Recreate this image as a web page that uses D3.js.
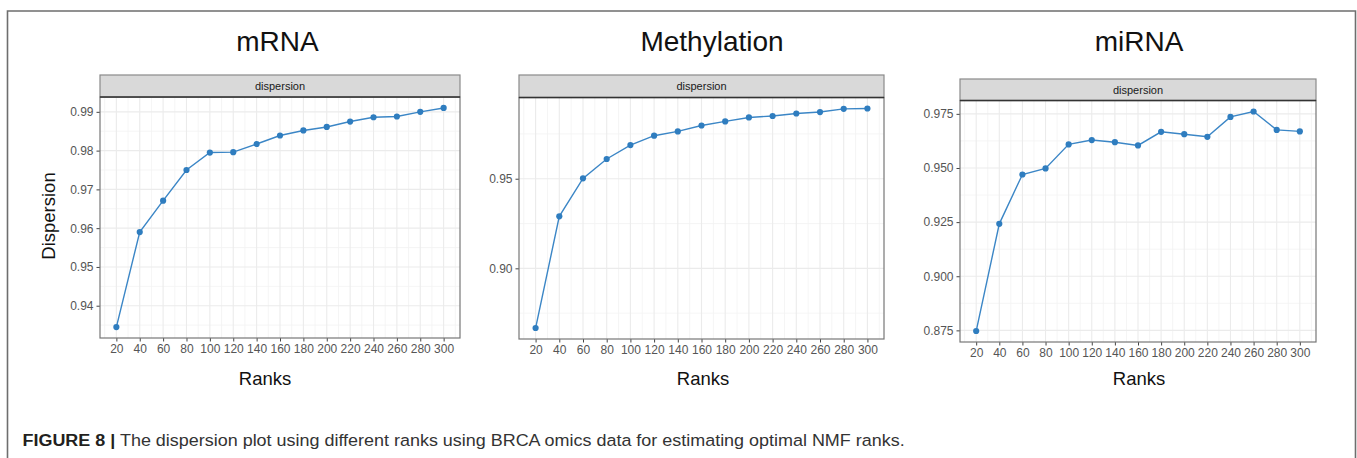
<!DOCTYPE html>
<html>
<head>
<meta charset="utf-8">
<script src="https://cdn.jsdelivr.net/npm/d3@7/dist/d3.min.js"></script>
<style>
  html, body { margin: 0; padding: 0; background: #fff; }
  svg { display: block; font-family: "Liberation Sans", Arial, Helvetica, sans-serif; }
</style>
</head>
<body>
<svg id="chart" width="1357" height="458"></svg>
<script>
// ---------- data ----------
const ranks = [20, 40, 60, 80, 100, 120, 140, 160, 180, 200, 220, 240, 260, 280, 300];
const mrnaValues = [0.9345, 0.9590, 0.9671, 0.9750, 0.9795, 0.9796, 0.9817, 0.9839, 0.9852, 0.9861, 0.9875, 0.9886, 0.9888, 0.9900, 0.9910];
const methylationValues = [0.8667, 0.9290, 0.9502, 0.9610, 0.9688, 0.9740, 0.9764, 0.9797, 0.9820, 0.9842, 0.9850, 0.9864, 0.9872, 0.9890, 0.9892];
const mirnaValues = [0.8747, 0.9242, 0.9470, 0.9498, 0.9609, 0.9629, 0.9619, 0.9604, 0.9667, 0.9656, 0.9644, 0.9736, 0.9761, 0.9676, 0.9669];

const mrnaYTicks = [0.94, 0.95, 0.96, 0.97, 0.98, 0.99];
const mrnaYMinor = [0.935, 0.945, 0.955, 0.965, 0.975, 0.985];
const methylationYTicks = [0.90, 0.95];
const methylationYMinor = [0.875, 0.925, 0.975];
const mirnaYTicks = [0.875, 0.900, 0.925, 0.950, 0.975];
const mirnaYMinor = [0.8875, 0.9125, 0.9375, 0.9625];
const xMinor = [10, 30, 50, 70, 90, 110, 130, 150, 170, 190, 210, 230, 250, 270, 290, 310];

const panelTitles = ["mRNA", "Methylation", "miRNA"];
const stripLabel = "dispersion";
const xLabel = "Ranks";
const yLabel = "Dispersion";
const captionBold = "FIGURE 8 |";
const captionText = " The dispersion plot using different ranks using BRCA omics data for estimating optimal NMF ranks.";

// ---------- layout ----------
const panels = [
  { title: panelTitles[0], values: mrnaValues, yTicks: mrnaYTicks, yMinor: mrnaYMinor, fmt: d3.format(".2f"),
    left: 100, right: 460, stripTop: 75, top: 97, bottom: 338, titleX: 277.5, ranksX: 265, showYLabel: true },
  { title: panelTitles[1], values: methylationValues, yTicks: methylationYTicks, yMinor: methylationYMinor, fmt: d3.format(".2f"),
    left: 519, right: 884, stripTop: 75, top: 97.5, bottom: 339, titleX: 712, ranksX: 703, showYLabel: false },
  { title: panelTitles[2], values: mirnaValues, yTicks: mirnaYTicks, yMinor: mirnaYMinor, fmt: d3.format(".3f"),
    left: 960, right: 1316, stripTop: 79, top: 100.5, bottom: 342, titleX: 1139, ranksX: 1139, showYLabel: false }
];

const svg = d3.select("#chart");

// outer frame (open at bottom)
svg.append("path")
  .attr("d", "M7.5,458 L7.5,11 L1355.5,11 L1355.5,458")
  .attr("fill", "none").attr("stroke", "#6e6e6e").attr("stroke-width", 1.6);

const lineColor = "#3b86c6";
const pointColor = "#2f7dbf";
const gridColor = "#ebebeb";

panels.forEach(p => {
  const g = svg.append("g");
  const x = d3.scaleLinear().domain([6, 314]).range([p.left, p.right]);
  const ext = d3.extent(p.values);
  const pad = (ext[1] - ext[0]) * 0.05;
  const y = d3.scaleLinear().domain([ext[0] - pad, ext[1] + pad]).range([p.bottom, p.top]);

  // title
  svg.append("text").attr("x", p.titleX).attr("y", 51)
    .attr("text-anchor", "middle").attr("font-size", 28).attr("fill", "#111")
    .text(p.title);

  // panel background
  g.append("rect").attr("x", p.left).attr("y", p.top).attr("width", p.right - p.left).attr("height", p.bottom - p.top)
    .attr("fill", "#fff");

  // minor grid
  g.selectAll(".xminor").data(xMinor.filter(v => v >= 6 && v <= 314)).enter().append("line")
    .attr("x1", d => x(d)).attr("x2", d => x(d)).attr("y1", p.top).attr("y2", p.bottom)
    .attr("stroke", "#f3f3f3").attr("stroke-width", 0.8);
  g.selectAll(".yminor").data(p.yMinor).enter().append("line")
    .attr("x1", p.left).attr("x2", p.right).attr("y1", d => y(d)).attr("y2", d => y(d))
    .attr("stroke", "#f3f3f3").attr("stroke-width", 0.8);
  // major grid
  g.selectAll(".xmajor").data(ranks).enter().append("line")
    .attr("x1", d => x(d)).attr("x2", d => x(d)).attr("y1", p.top).attr("y2", p.bottom)
    .attr("stroke", gridColor).attr("stroke-width", 1.1);
  g.selectAll(".ymajor").data(p.yTicks).enter().append("line")
    .attr("x1", p.left).attr("x2", p.right).attr("y1", d => y(d)).attr("y2", d => y(d))
    .attr("stroke", gridColor).attr("stroke-width", 1.1);

  // axes
  const xAxis = d3.axisBottom(x).tickValues(ranks).tickSize(3.5).tickPadding(3).tickFormat(d3.format("d"));
  const gx = g.append("g").attr("transform", `translate(0,${p.bottom})`).call(xAxis);
  const yAxis = d3.axisLeft(y).tickValues(p.yTicks).tickSize(3.5).tickPadding(3).tickFormat(p.fmt);
  const gy = g.append("g").attr("transform", `translate(${p.left},0)`).call(yAxis);
  [gx, gy].forEach(a => {
    a.select(".domain").remove();
    a.selectAll(".tick line").attr("stroke", "#444").attr("stroke-width", 1);
    a.selectAll(".tick text").attr("fill", "#555").attr("font-size", 12)
      .attr("font-family", "'Liberation Sans', Arial, sans-serif");
  });

  // panel border
  g.append("rect").attr("x", p.left).attr("y", p.top).attr("width", p.right - p.left).attr("height", p.bottom - p.top)
    .attr("fill", "none").attr("stroke", "#777").attr("stroke-width", 1.2);

  // strip
  g.append("rect").attr("x", p.left).attr("y", p.stripTop).attr("width", p.right - p.left).attr("height", p.top - p.stripTop)
    .attr("fill", "#d9d9d9").attr("stroke", "#8a8a8a").attr("stroke-width", 1.2);
  g.append("line").attr("x1", p.left).attr("x2", p.right).attr("y1", p.top).attr("y2", p.top)
    .attr("stroke", "#333").attr("stroke-width", 1.6);
  g.append("text").attr("x", (p.left + p.right) / 2).attr("y", (p.stripTop + p.top) / 2 + 4)
    .attr("text-anchor", "middle").attr("font-size", 11).attr("fill", "#1a1a1a").text(stripLabel);

  // line + points
  const pts = ranks.map((r, i) => [r, p.values[i]]);
  g.append("path").datum(pts)
    .attr("d", d3.line().x(d => x(d[0])).y(d => y(d[1])))
    .attr("fill", "none").attr("stroke", lineColor).attr("stroke-width", 1.4);
  g.selectAll(".pt").data(pts).enter().append("circle")
    .attr("cx", d => x(d[0])).attr("cy", d => y(d[1])).attr("r", 3.1)
    .attr("fill", pointColor);

  // x label
  svg.append("text").attr("x", p.ranksX).attr("y", 385)
    .attr("text-anchor", "middle").attr("font-size", 18.5).attr("fill", "#111").text(xLabel);

  if (p.showYLabel) {
    svg.append("text").attr("transform", `translate(55,216) rotate(-90)`)
      .attr("text-anchor", "middle").attr("font-size", 18.5).attr("fill", "#111").text(yLabel);
  }
});

// caption (stretched horizontally to the reference's width)
const capG = svg.append("g");
const cap = capG.append("text").attr("x", 0).attr("y", 0).attr("font-size", 16.8);
cap.append("tspan").attr("font-weight", "bold").attr("fill", "#231f20").text(captionBold);
cap.append("tspan").attr("fill", "#333").text(captionText);
const capW = cap.node().getComputedTextLength();
const targetW = 882;
capG.attr("transform", `translate(22.5,446) scale(${targetW / capW},1)`);
</script>
</body>
</html>
